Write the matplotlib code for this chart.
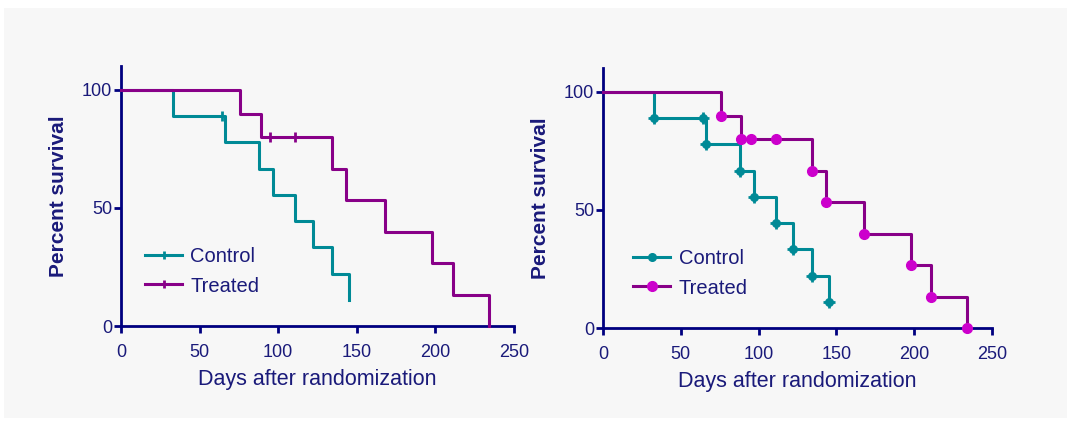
import numpy as np
import matplotlib
matplotlib.use('Agg')
import matplotlib.pyplot as plt
from matplotlib.patches import Rectangle

## Kaplan-Meier data
control_t = [0, 33, 66, 88, 97, 111, 122, 134, 145]
control_s = [100, 88.9, 77.8, 66.7, 55.6, 44.4, 33.3, 22.2, 11.1]
control_cens_t = [64]
control_cens_s = [88.9]

treated_t = [0, 76, 89, 134, 143, 168, 198, 211, 234]
treated_s = [100, 90, 80, 66.7, 53.3, 40, 26.7, 13.3, 0]
treated_cens_t = [95, 111]
treated_cens_s = [80, 80]

x_ticks = [0, 50, 100, 150, 200, 250]
y_ticks = [0, 50, 100]

navy = '#000080'
txt = '#1a1a7a'
teal = '#008a96'
purple = '#880088'
magenta = '#cc00cc'

plt.rcParams['font.family'] = ['Liberation Sans', 'DejaVu Sans']

fig = plt.figure(figsize=(10.67, 4.23), dpi=100)
fig.patch.set_facecolor('white')
fig.patches.append(Rectangle((4 / 1067, 5 / 423), 1.0, 410 / 423, transform=fig.transFigure,
                             facecolor='#f7f7f7', edgecolor='none', zorder=-10))


def style_axes(ax):
    ax.set_facecolor('none')
    ax.set_xlim(0, 250)
    ax.set_ylim(0, 110)
    ax.set_xticks(x_ticks)
    ax.set_yticks(y_ticks)
    for s in ['top', 'right']:
        ax.spines[s].set_visible(False)
    for s in ['left', 'bottom']:
        ax.spines[s].set_color(navy)
        ax.spines[s].set_linewidth(2.0)
    ax.tick_params(colors=navy, width=2.0, length=5, labelsize=13, labelcolor=txt)
    ax.tick_params(axis='x', pad=8)
    ax.tick_params(axis='y', pad=1.5)
    ax.set_xlabel('Days after randomization', fontsize=15.5, color=txt, labelpad=6)
    ax.set_ylabel('Percent survival', fontsize=15, color=txt, fontweight='bold', labelpad=10)


def add_legend(ax, handles, x0, y0):
    ax.legend(handles, ['Control', 'Treated'], loc='center left', bbox_to_anchor=(x0, y0),
              borderaxespad=0, frameon=False, fontsize=14.5, handlelength=1.85,
              handletextpad=0.4, labelspacing=0.5, labelcolor=txt)


# Left panel: censor ticks
ax1 = fig.add_axes([121 / 1067, 97 / 423, 393 / 1067, 259.6 / 423])
ax1.step(control_t, control_s, where='post', color=teal, lw=2.2, clip_on=False, zorder=3)
ax1.step(treated_t, treated_s, where='post', color=purple, lw=2.2, clip_on=False, zorder=3)
ax1.plot(control_cens_t, control_cens_s, ls='none', marker='|', ms=7, mew=2, color=teal, zorder=4)
ax1.plot(treated_cens_t, treated_cens_s, ls='none', marker='|', ms=7, mew=2, color=purple, zorder=4)
h1 = ax1.plot([], [], color=teal, lw=2.2, marker='|', ms=6, mew=2)[0]
h2 = ax1.plot([], [], color=purple, lw=2.2, marker='|', ms=6, mew=2)[0]
style_axes(ax1)
add_legend(ax1, [h1, h2], 0.041, 0.21)

# Right panel: markers at every point
ax2 = fig.add_axes([603 / 1067, 95 / 423, 389 / 1067, 259.6 / 423])
ax2.step(control_t, control_s, where='post', color=teal, lw=2.2, clip_on=False, zorder=3)
ax2.step(treated_t, treated_s, where='post', color=purple, lw=2.2, clip_on=False, zorder=3)
cx = control_t[1:] + control_cens_t
cy = control_s[1:] + control_cens_s
tx = treated_t[1:] + treated_cens_t
ty = treated_s[1:] + treated_cens_s
ax2.plot(cx, cy, ls='none', marker='o', ms=5.5, color=teal, clip_on=False, zorder=4)
ax2.plot(cx, cy, ls='none', marker='+', ms=9, mew=2, color=teal, clip_on=False, zorder=4)
ax2.plot(tx, ty, ls='none', marker='o', ms=7, color=magenta, clip_on=False, zorder=4)
g1 = ax2.plot([], [], color=teal, lw=2.2, marker='o', ms=5.5)[0]
g2 = ax2.plot([], [], color=purple, lw=2.2, marker='o', ms=7, mfc=magenta, mec=magenta)[0]
style_axes(ax2)
add_legend(ax2, [g1, g2], 0.057, 0.21)

fig.savefig('out.png', dpi=100, facecolor=fig.get_facecolor())
